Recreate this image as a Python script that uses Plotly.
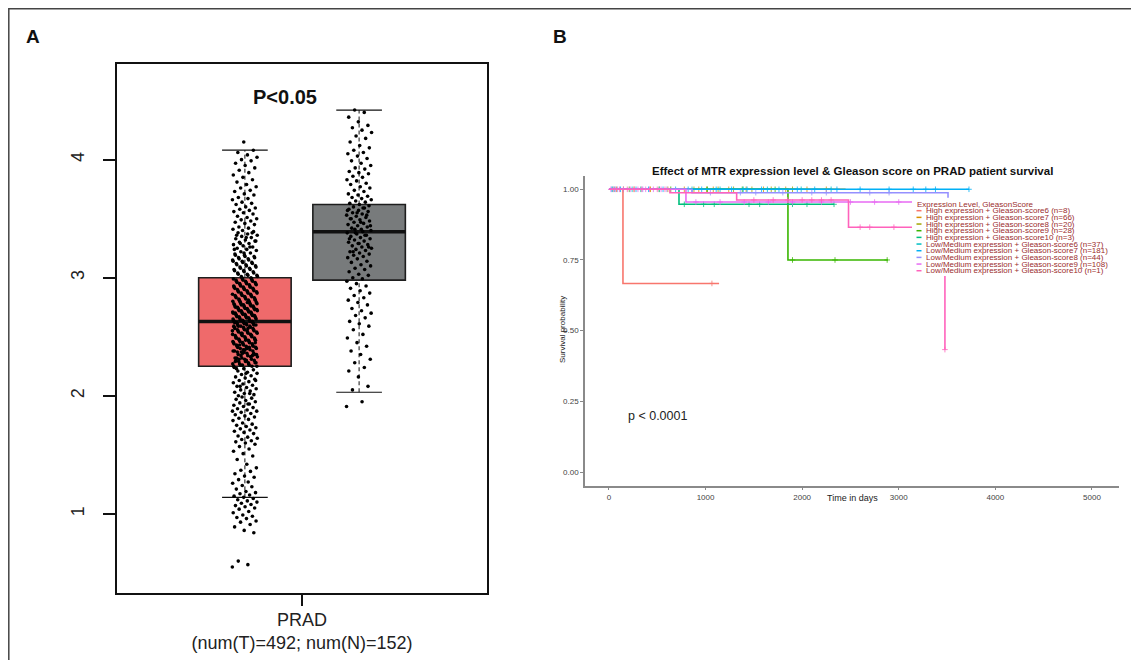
import plotly.graph_objects as go

W, H = 1139, 660
FONT = "Liberation Sans, Arial, Helvetica, sans-serif"
OFF = 8  # page body margin of the html page

# ---------------- Panel A data ----------------
box_names = ["Tumor", "Normal"]
box_pos = [1, 2]
box_q1 = [2.25, 2.98]
box_median = [2.63, 3.39]
box_q3 = [3.00, 3.62]
box_lower = [1.14, 2.03]
box_upper = [4.08, 4.42]
box_colors = ["#ef6a6b", "#787b7c"]

tumor_expr = [
    0.55, 0.57, 0.60,
    0.84, 0.86, 0.89, 0.91, 0.93, 0.94, 0.96, 0.97, 0.98, 0.99,
    1.01, 1.02, 1.04, 1.05, 1.06, 1.07, 1.08, 1.09, 1.10, 1.11, 1.12, 1.13, 1.14, 1.15, 1.16, 1.17, 1.18, 1.19,
    1.21, 1.23, 1.24, 1.26, 1.27, 1.29, 1.31, 1.32, 1.34, 1.36, 1.37, 1.39,
    1.42, 1.46, 1.49, 1.51, 1.53, 1.55, 1.57, 1.59,
    1.60, 1.61, 1.62, 1.63, 1.64, 1.65, 1.66, 1.68, 1.69, 1.70, 1.71, 1.72, 1.73, 1.74, 1.75, 1.76, 1.77, 1.79,
    1.80, 1.81, 1.82, 1.83, 1.84, 1.85, 1.86, 1.87, 1.88, 1.89, 1.90, 1.91, 1.92, 1.93, 1.94, 1.95, 1.96, 1.97,
    1.98, 1.99, 1.87, 1.93,
    2.00, 2.01, 2.02, 2.03, 2.04, 2.05, 2.06, 2.07, 2.08, 2.09, 2.10, 2.11, 2.12, 2.13, 2.14, 2.15, 2.16, 2.17,
    2.18, 2.19, 2.20, 2.21, 2.22, 2.23, 2.24, 2.02, 2.08, 2.13, 2.19, 2.23,
    2.25, 2.26, 2.27, 2.28, 2.29, 2.30, 2.31, 2.32, 2.33, 2.34, 2.35, 2.36, 2.37, 2.38, 2.39,
    2.25, 2.26, 2.27, 2.28, 2.29, 2.30, 2.31, 2.32, 2.33, 2.34, 2.35, 2.36, 2.37, 2.38, 2.39,
    2.26, 2.28, 2.30, 2.32, 2.34, 2.36, 2.38, 2.27, 2.31, 2.35, 2.39, 2.29, 2.33, 2.37, 2.25,
    2.40, 2.41, 2.42, 2.43, 2.44, 2.45, 2.46, 2.47, 2.48, 2.49, 2.50, 2.51, 2.52, 2.53, 2.54, 2.55, 2.56, 2.57, 2.58, 2.59,
    2.40, 2.41, 2.42, 2.43, 2.44, 2.45, 2.46, 2.47, 2.48, 2.49, 2.50, 2.51, 2.52, 2.53, 2.54, 2.55, 2.56, 2.57, 2.58, 2.59,
    2.40, 2.41, 2.42, 2.43, 2.44, 2.45, 2.46, 2.47, 2.48, 2.49, 2.50, 2.51, 2.52, 2.53, 2.54, 2.55, 2.56, 2.57, 2.58, 2.59,
    2.41, 2.43, 2.45, 2.47, 2.49, 2.51, 2.53, 2.55, 2.57, 2.59,
    2.60, 2.61, 2.62, 2.63, 2.64, 2.65, 2.66, 2.67, 2.68, 2.69, 2.70, 2.71, 2.72, 2.73, 2.74, 2.75, 2.76, 2.77, 2.78, 2.79,
    2.60, 2.61, 2.62, 2.63, 2.64, 2.65, 2.66, 2.67, 2.68, 2.69, 2.70, 2.71, 2.72, 2.73, 2.74, 2.75, 2.76, 2.77, 2.78, 2.79,
    2.60, 2.61, 2.62, 2.63, 2.64, 2.65, 2.66, 2.67, 2.68, 2.69, 2.70, 2.71, 2.72, 2.73, 2.74, 2.75, 2.76, 2.77, 2.78, 2.79,
    2.60, 2.61, 2.62, 2.63, 2.64, 2.65, 2.66, 2.67, 2.68, 2.69, 2.70, 2.71, 2.72, 2.73, 2.74, 2.75, 2.76, 2.77, 2.78, 2.79,
    2.80, 2.81, 2.82, 2.83, 2.84, 2.85, 2.86, 2.87, 2.88, 2.89, 2.90, 2.91, 2.92, 2.93, 2.94, 2.95, 2.96, 2.97, 2.98, 2.99,
    2.80, 2.81, 2.82, 2.83, 2.84, 2.85, 2.86, 2.87, 2.88, 2.89, 2.90, 2.91, 2.92, 2.93, 2.94, 2.95, 2.96, 2.97, 2.98, 2.99,
    2.80, 2.81, 2.82, 2.83, 2.84, 2.85, 2.86, 2.87, 2.88, 2.89, 2.90, 2.91, 2.92, 2.93, 2.94, 2.95, 2.96, 2.97, 2.98, 2.99,
    3.00, 3.01, 3.02, 3.03, 3.04, 3.05, 3.06, 3.07, 3.08, 3.09, 3.10, 3.11, 3.12, 3.13, 3.14, 3.15, 3.16, 3.17, 3.18, 3.19,
    3.00, 3.01, 3.02, 3.03, 3.04, 3.05, 3.06, 3.07, 3.08, 3.09, 3.10, 3.11, 3.12, 3.13, 3.14, 3.15, 3.16, 3.17, 3.18, 3.19,
    3.20, 3.21, 3.22, 3.23, 3.24, 3.25, 3.26, 3.27, 3.28, 3.29, 3.30, 3.31, 3.32, 3.33, 3.34, 3.35, 3.36, 3.37, 3.38, 3.39,
    3.21, 3.24, 3.26, 3.29, 3.31, 3.34, 3.36, 3.38,
    3.40, 3.41, 3.42, 3.43, 3.45, 3.46, 3.47, 3.48, 3.49, 3.50, 3.51, 3.52, 3.54, 3.55, 3.56, 3.57, 3.58, 3.59,
    3.60, 3.62, 3.63, 3.64, 3.66, 3.67, 3.68, 3.70, 3.71, 3.73, 3.74, 3.76, 3.77, 3.79,
    3.81, 3.83, 3.85, 3.87, 3.89, 3.91, 3.93, 3.95, 3.97, 3.99,
    4.00, 4.02, 4.04, 4.06, 4.08, 4.15,
]

normal_expr = [
    1.91, 1.95,
    2.05, 2.08, 2.16,
    2.21, 2.24, 2.28, 2.31, 2.35, 2.38,
    2.42, 2.45, 2.49, 2.52, 2.56, 2.59,
    2.61, 2.63, 2.66, 2.68, 2.70, 2.72, 2.74, 2.77, 2.79,
    2.81, 2.83, 2.85, 2.87, 2.89, 2.91, 2.93, 2.95, 2.97, 2.99,
    3.00, 3.02, 3.03, 3.05, 3.07, 3.08, 3.10, 3.11, 3.13, 3.14, 3.16, 3.17, 3.18, 3.19,
    3.20, 3.21, 3.22, 3.23, 3.24, 3.25, 3.26, 3.27, 3.28, 3.29, 3.30, 3.31, 3.32, 3.33, 3.34, 3.35, 3.36, 3.37, 3.38, 3.39,
    3.22, 3.26, 3.29, 3.33, 3.36, 3.38,
    3.40, 3.41, 3.42, 3.43, 3.44, 3.45, 3.46, 3.47, 3.48, 3.49, 3.50, 3.51, 3.52, 3.53, 3.54, 3.55, 3.56, 3.57, 3.58, 3.59,
    3.41, 3.44, 3.47, 3.50, 3.53, 3.55, 3.57, 3.59,
    3.60, 3.61, 3.62, 3.63, 3.64, 3.65, 3.66, 3.67, 3.68, 3.69,
    3.70, 3.71, 3.73, 3.74, 3.76, 3.77, 3.79, 3.80, 3.82, 3.83, 3.85, 3.86, 3.88, 3.89,
    3.90, 3.92, 3.93, 3.95, 3.97, 3.99, 4.01, 4.03, 4.05, 4.06, 4.08, 4.10,
    4.12, 4.15, 4.18, 4.20, 4.23, 4.25, 4.27, 4.29,
    4.32, 4.36, 4.40, 4.42,
]
expr_values = [tumor_expr, normal_expr]
cat_label = "PRAD<br>(num(T)=492; num(N)=152)"

# ---------------- Panel B data ----------------
km_labels = [
    "High expression + Gleason-score6 (n=8)",
    "High expression + Gleason-score7 (n=66)",
    "High expression + Gleason-score8 (n=20)",
    "High expression + Gleason-score9 (n=28)",
    "High expression + Gleason-score10 (n=3)",
    "Low/Medium expression + Gleason-score6 (n=37)",
    "Low/Medium expression + Gleason-score7 (n=181)",
    "Low/Medium expression + Gleason-score8 (n=44)",
    "Low/Medium expression + Gleason-score9 (n=108)",
    "Low/Medium expression + Gleason-score10 (n=1)",
]
km_colors = ["#F8766D", "#D89000", "#A3A500", "#39B600", "#00BF7D",
             "#00BFC4", "#00B0F6", "#9590FF", "#E76BF3", "#FF62BC"]
km_times = [
    [0, 145, 1140],
    [0, 2450],
    [0, 1950],
    [0, 1853, 2888],
    [0, 725, 2330],
    [0, 2300],
    [0, 3727],
    [0, 860, 3510],
    [0, 797, 3150],
    [0, 631, 1322, 2480, 3478],
]
km_surv = [
    [1.0, 0.667, 0.667],
    [1.0, 1.0],
    [1.0, 1.0],
    [1.0, 0.75, 0.75],
    [1.0, 0.947, 0.947],
    [1.0, 1.0],
    [1.0, 1.0],
    [1.0, 0.988, 0.970],
    [1.0, 0.955, 0.955],
    [1.0, 0.988, 0.962, 0.866, 0.433],
]
km_censor = [
    [1066],
    [80, 260, 430, 610, 780, 930, 1080, 1240, 1420, 1600, 1830, 2050, 2250],
    [150, 520, 880, 1010, 1130, 1290, 1480, 1680, 1900],
    [210, 640, 1020, 1380, 1720, 1900, 2340, 2880],
    [40, 330, 780, 980, 1090, 1450, 1560, 1900, 2050, 2330],
    [60, 240, 520, 860, 1150, 1390, 1640, 1990, 2300],
    [30, 120, 280, 410, 560, 690, 820, 960, 1110, 1270, 1430, 1580, 1760, 1950, 2130, 2360, 2600, 2900, 3150,
     3280, 3380, 3727],
    [90, 350, 600, 1050, 1360, 1520, 1800, 2100, 2250, 2700, 2900],
    [20, 70, 150, 220, 300, 380, 460, 540, 900, 1150, 1400, 1650, 1900, 2200, 2500, 2750, 3000],
    [50, 110, 190, 260, 340, 420, 500, 580, 1500, 1700, 1850, 2000, 2100, 2200, 2300, 2600, 2700, 2950, 3478],
]
x_ticks_b = [0, 1000, 2000, 3000, 4000, 5000]
y_ticks_b = [0.0, 0.25, 0.5, 0.75, 1.0]


def pxx(x):
    return (x - OFF) / W


def pxy(y):
    return 1 - (y - OFF) / H


def surv_at(times, surv, t):
    v = surv[0]
    for tt, ss in zip(times, surv):
        if tt <= t:
            v = ss
    return v


fig = go.Figure()

# ---- Panel A: boxes ----
BOX_W = 0.81
CAP_W = 0.40
JIT = 0.11
for i in range(2):
    fig.add_trace(go.Box(
        x=[box_pos[i]], q1=[box_q1[i]], median=[box_median[i]], q3=[box_q3[i]],
        lowerfence=[box_q1[i]], upperfence=[box_q3[i]], width=BOX_W,
        fillcolor=box_colors[i], line=dict(color="#1e1e1e", width=1.6),
        boxpoints=False, hoverinfo="skip", showlegend=False, name=box_names[i],
        xaxis="x", yaxis="y"))
for i in range(2):
    p = box_pos[i]
    for a, b in [(box_q3[i], box_upper[i]), (box_lower[i], box_q1[i])]:
        fig.add_trace(go.Scatter(x=[p, p], y=[a, b], mode="lines",
                                 line=dict(color="#111", width=1, dash="4px,3px"),
                                 hoverinfo="skip", showlegend=False, xaxis="x", yaxis="y"))
    for v in [box_upper[i], box_lower[i]]:
        fig.add_trace(go.Scatter(x=[p - CAP_W / 2, p + CAP_W / 2], y=[v, v], mode="lines",
                                 line=dict(color="#111", width=1.2),
                                 hoverinfo="skip", showlegend=False, xaxis="x", yaxis="y"))
    fig.add_trace(go.Scatter(x=[p - BOX_W / 2, p + BOX_W / 2], y=[box_median[i]] * 2, mode="lines",
                             line=dict(color="#111", width=3.5),
                             hoverinfo="skip", showlegend=False, xaxis="x", yaxis="y"))
for i in range(2):
    vals = expr_values[i]
    xs = [box_pos[i] + ((k * 0.6180339887) % 1.0 - 0.5) * 2 * JIT for k in range(len(vals))]
    fig.add_trace(go.Scatter(x=xs, y=vals, mode="markers",
                             marker=dict(color="#000", size=3.6),
                             hoverinfo="skip", showlegend=False, xaxis="x", yaxis="y"))

# ---- Panel B: KM curves ----
for i in range(len(km_labels)):
    fig.add_trace(go.Scatter(x=km_times[i], y=km_surv[i], mode="lines", line_shape="hv",
                             line=dict(color=km_colors[i], width=1.6),
                             hoverinfo="skip", showlegend=False, xaxis="x2", yaxis="y2"))
    cy = [surv_at(km_times[i], km_surv[i], t) for t in km_censor[i]]
    fig.add_trace(go.Scatter(x=km_censor[i], y=cy, mode="markers",
                             marker=dict(symbol="cross-thin", size=4, color=km_colors[i],
                                         line=dict(color=km_colors[i], width=0.8)),
                             hoverinfo="skip", showlegend=False, xaxis="x2", yaxis="y2"))


def note(text, x, y, size, color="#222", xanchor="center", angle=0, bold=False):
    return dict(text=("<b>%s</b>" % text) if bold else text, x=x, y=y, xref="paper", yref="paper",
                showarrow=False, xanchor=xanchor, yanchor="middle", textangle=angle,
                font=dict(size=size, color=color, family=FONT))


shapes = [
    dict(type="rect", xref="paper", yref="paper", x0=pxx(8.8), x1=pxx(1132), y0=-0.2, y1=pxy(8.8),
         line=dict(color="#444", width=1.5), fillcolor="rgba(0,0,0,0)", layer="below"),
    dict(type="rect", xref="paper", yref="paper", x0=pxx(912), x1=pxx(1114), y0=pxy(276), y1=pxy(198),
         line=dict(width=0), fillcolor="white", layer="above"),
]
annotations = [
    note("A", pxx(33), pxy(36), 19, "#111", bold=True),
    note("B", pxx(560), pxy(36), 19, "#111", bold=True),
    note("P<0.05", pxx(285), pxy(97), 20, "#111", bold=True),
    note("Effect of MTR expression level & Gleason score on PRAD patient survival",
         pxx(852), pxy(171), 11.5, "#111", bold=True),
    note("Time in days", pxx(852), pxy(498), 9),
    note("Survival probability", pxx(563), pxy(330), 8, angle=-90),
    dict(text="p < 0.0001", x=180, y=0.198, xref="x2", yref="y2", showarrow=False, xanchor="left",
         yanchor="middle", font=dict(size=12.5, color="#222", family=FONT)),
    note("Expression Level, GleasonScore", pxx(915), pxy(204), 8.0, "#9b2d2d", xanchor="left"),
]
for i, lab in enumerate(km_labels):
    yy = 210.7 + 6.67 * i
    annotations.append(note(lab, pxx(923.5), pxy(yy), 8.0, "#9b2d2d", xanchor="left"))
    shapes.append(dict(type="line", xref="paper", yref="paper", x0=pxx(916.5), x1=pxx(921.5),
                       y0=pxy(yy), y1=pxy(yy), line=dict(color=km_colors[i], width=1.5), layer="above"))

fig.update_layout(
    width=W, height=H, autosize=False,
    margin=dict(l=0, r=0, t=0, b=0),
    paper_bgcolor="white", plot_bgcolor="white",
    showlegend=False, hovermode=False,
    font=dict(family=FONT, color="#222"),
    xaxis=dict(domain=[pxx(117), pxx(487)], range=[-0.12, 3.12],
               tickvals=[1.5], ticktext=[cat_label], ticks="outside", ticklen=11, tickwidth=2,
               tickcolor="#111", showline=True, mirror=True, linewidth=2, linecolor="#111",
               showgrid=False, zeroline=False, ticklabelstandoff=-2,
               tickfont=dict(size=18, color="#222", family=FONT)),
    yaxis=dict(domain=[pxy(593), pxy(64)], range=[0.33, 4.81],
               tickvals=[1, 2, 3, 4], tickangle=-90, ticks="outside", ticklen=12, tickwidth=1.5,
               tickcolor="#111", showline=True, mirror=True, linewidth=2, linecolor="#111",
               showgrid=False, zeroline=False, ticklabelstandoff=12,
               tickfont=dict(size=18, color="#222", family=FONT)),
    xaxis2=dict(domain=[pxx(585), pxx(1119)], range=[-248, 5280], anchor="y2",
                tickvals=x_ticks_b, ticks="outside", ticklen=3, tickwidth=1, tickcolor="#888",
                showline=True, linewidth=1.5, linecolor="#8a8a8a",
                showgrid=False, zeroline=False,
                tickfont=dict(size=8, color="#444", family=FONT)),
    yaxis2=dict(domain=[pxy(485.6), pxy(176)], range=[-0.048, 1.047], anchor="x2",
                tickvals=y_ticks_b, tickformat=".2f", ticks="outside", ticklen=3, tickwidth=1,
                tickcolor="#888", showline=True, linewidth=1.5, linecolor="#8a8a8a",
                showgrid=False, zeroline=False,
                tickfont=dict(size=8, color="#444", family=FONT)),
    shapes=shapes,
    annotations=annotations,
)

fig.write_html("out.html")
